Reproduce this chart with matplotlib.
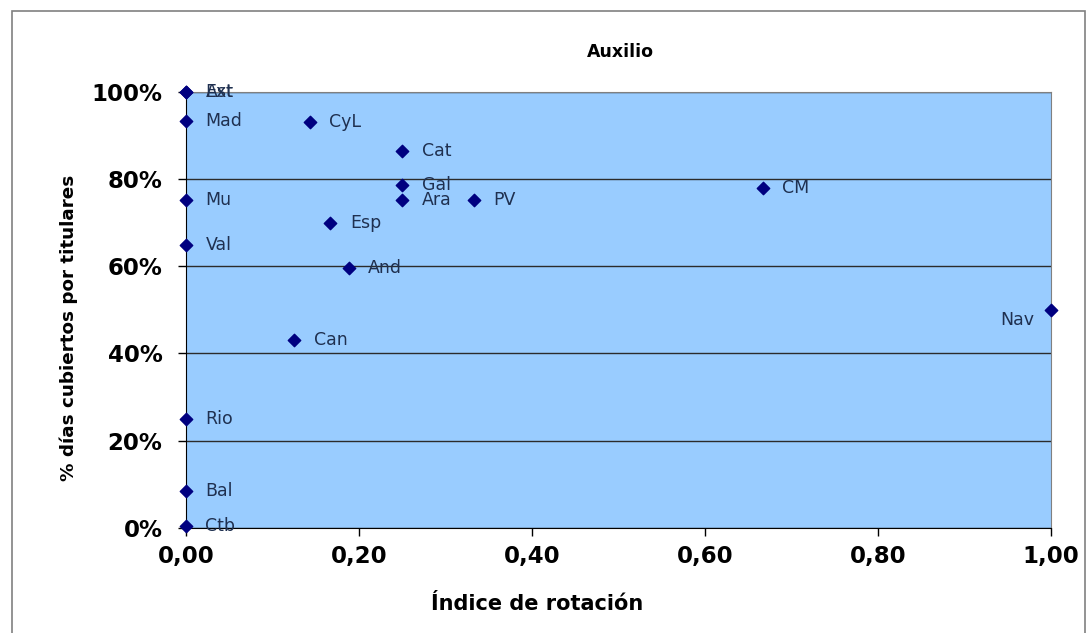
import matplotlib.pyplot as plt
from matplotlib.patches import Rectangle
from matplotlib.ticker import FuncFormatter, MultipleLocator

# -----------------------------
# Data
# -----------------------------
regions = ["Ext", "Ast", "Mad", "CyL", "Cat", "Gal", "Ara", "PV", "CM", "Mu",
           "Esp", "Val", "And", "Nav", "Can", "Rio", "Bal", "Ctb"]
rotation = [0.0, 0.0, 0.0, 0.143, 0.25, 0.25, 0.25, 0.333, 0.667, 0.0,
            0.167, 0.0, 0.188, 1.0, 0.125, 0.0, 0.0, 0.0]
covered = [1.00, 1.00, 0.933, 0.931, 0.865, 0.787, 0.752, 0.752, 0.780, 0.752,
           0.700, 0.649, 0.596, 0.500, 0.431, 0.250, 0.085, 0.005]
label_left = ["Nav"]

# -----------------------------
# Plot
# -----------------------------
fig = plt.figure(figsize=(10.88, 6.33), dpi=100)
ax = fig.add_axes([0.171, 0.166, 0.795, 0.689])

# chart area border
fig.patches.append(Rectangle((0.011, -0.01), 0.986, 0.992, transform=fig.transFigure,
                             fill=False, edgecolor="#808080", linewidth=1.2))

ax.set_facecolor("#99CCFF")
ax.set_xlim(0, 1)
ax.set_ylim(0, 1)
ax.yaxis.set_major_locator(MultipleLocator(0.2))
ax.xaxis.set_major_locator(MultipleLocator(0.2))
ax.yaxis.set_major_formatter(FuncFormatter(lambda v, p: f"{v:.0%}"))
ax.xaxis.set_major_formatter(FuncFormatter(lambda v, p: f"{v:.2f}".replace(".", ",")))

ax.grid(True, axis="y", color="#2b2b2b", linewidth=1.0)
ax.set_axisbelow(True)
for side in ["top", "right"]:
    ax.spines[side].set_color("#808080")
ax.spines["left"].set_color("#000000")
ax.spines["bottom"].set_color("#000000")
ax.tick_params(axis="both", direction="out", length=6, width=1, labelsize=16.5)
ax.tick_params(axis="y", pad=11)
ax.tick_params(axis="x", pad=6)
for lbl in ax.get_xticklabels() + ax.get_yticklabels():
    lbl.set_fontweight("bold")

ax.scatter(rotation, covered, marker="D", s=40, color="#000080", zorder=3, clip_on=False)

for name, x, y in zip(regions, rotation, covered):
    if name in label_left:
        ax.annotate(name, (x, y), xytext=(-12, -7), textcoords="offset points",
                    ha="right", va="center", fontsize=12.5, color="#1f3050")
    else:
        ax.annotate(name, (x, y), xytext=(14, 0), textcoords="offset points",
                    ha="left", va="center", fontsize=12.5, color="#1f3050")

fig.text(0.570, 0.918, "Auxilio", ha="center", va="center", fontsize=12.5, fontweight="bold")
fig.text(0.494, 0.046, "Índice de rotación", ha="center", va="center",
         fontsize=15, fontweight="bold")
fig.text(0.063, 0.482, "% días cubiertos por titulares", ha="center", va="center",
         rotation=90, fontsize=13.2, fontweight="bold")

fig.savefig("out.png", dpi=100)
